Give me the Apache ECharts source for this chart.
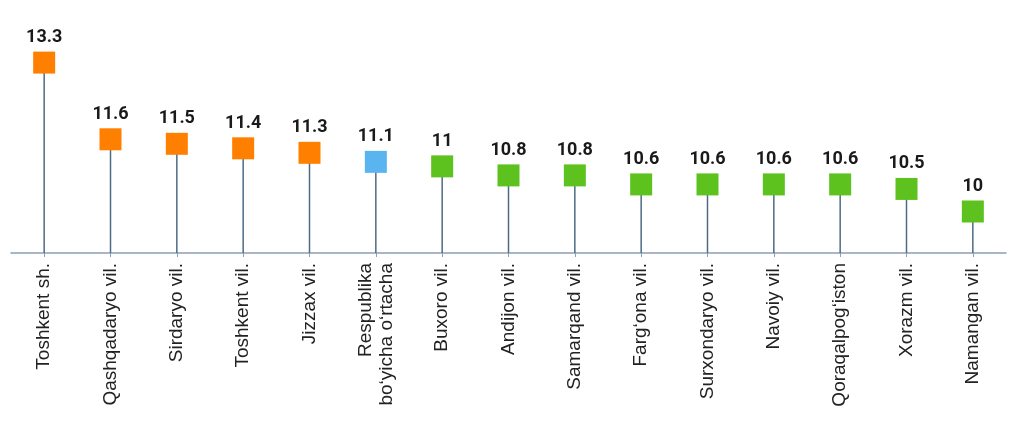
<!DOCTYPE html>
<html>
<head>
<meta charset="utf-8">
<script src="https://cdn.jsdelivr.net/npm/echarts@6/dist/echarts.min.js"></script>
<style>html,body{margin:0;padding:0;background:#fff}#c{width:1024px;height:428px}</style>
</head>
<body>
<div id="c"></div>
<script>
const categories = ['Toshkent sh.', 'Qashqadaryo vil.', 'Sirdaryo vil.', 'Toshkent vil.', 'Jizzax vil.',
  'Respublika\nboʻyicha oʻrtacha', 'Buxoro vil.', 'Andijon vil.', 'Samarqand vil.', 'Fargʻona vil.',
  'Surxondaryo vil.', 'Navoiy vil.', 'Qoraqalpogʻiston', 'Xorazm vil.', 'Namangan vil.'];
const values = [13.3, 11.6, 11.5, 11.4, 11.3, 11.1, 11, 10.8, 10.8, 10.6, 10.6, 10.6, 10.6, 10.5, 10];
const groups = ['high', 'high', 'high', 'high', 'high', 'avg', 'low', 'low', 'low', 'low', 'low', 'low', 'low', 'low', 'low'];
const groupColors = { high: '#FF8000', avg: '#5AB4F0', low: '#5DC21E' };

const chart = echarts.init(document.getElementById('c'), null, { renderer: 'canvas' });
chart.setOption({
  animation: false,
  backgroundColor: '#ffffff',
  textStyle: { fontFamily: 'Arial' },
  grid: { left: 11, right: 18, top: 31, bottom: 175, containLabel: false },
  xAxis: {
    type: 'category',
    data: categories,
    boundaryGap: true,
    axisLine: { show: true, lineStyle: { color: '#8aa0b4', width: 1.5 } },
    axisTick: { show: true, alignWithLabel: true, length: 4, lineStyle: { color: '#8aa0b4', width: 1 } },
    axisLabel: {
      rotate: 90, interval: 0, margin: 10,
      fontFamily: "'Liberation Sans'", fontSize: 19, color: '#222222',
      lineHeight: 21
    }
  },
  yAxis: {
    type: 'value', min: 9.08, max: 14,
    show: false, splitLine: { show: false }
  },
  series: [
    {
      type: 'bar',
      data: values,
      barWidth: 1.5,
      itemStyle: { color: '#4d6b86' },
      z: 1
    },
    {
      type: 'scatter',
      data: values.map((v, i) => ({ value: v, itemStyle: { color: groupColors[groups[i]], opacity: 1 } })),
      symbol: 'rect',
      symbolSize: 22,
      itemStyle: { opacity: 1 },
      z: 3,
      label: {
        show: true, position: 'top', distance: 5,
        fontFamily: 'Roboto', fontWeight: 'bold', fontSize: 18, color: '#1a1a1a',
        formatter: p => String(p.value)
      }
    }
  ]
});
</script>
</body>
</html>
